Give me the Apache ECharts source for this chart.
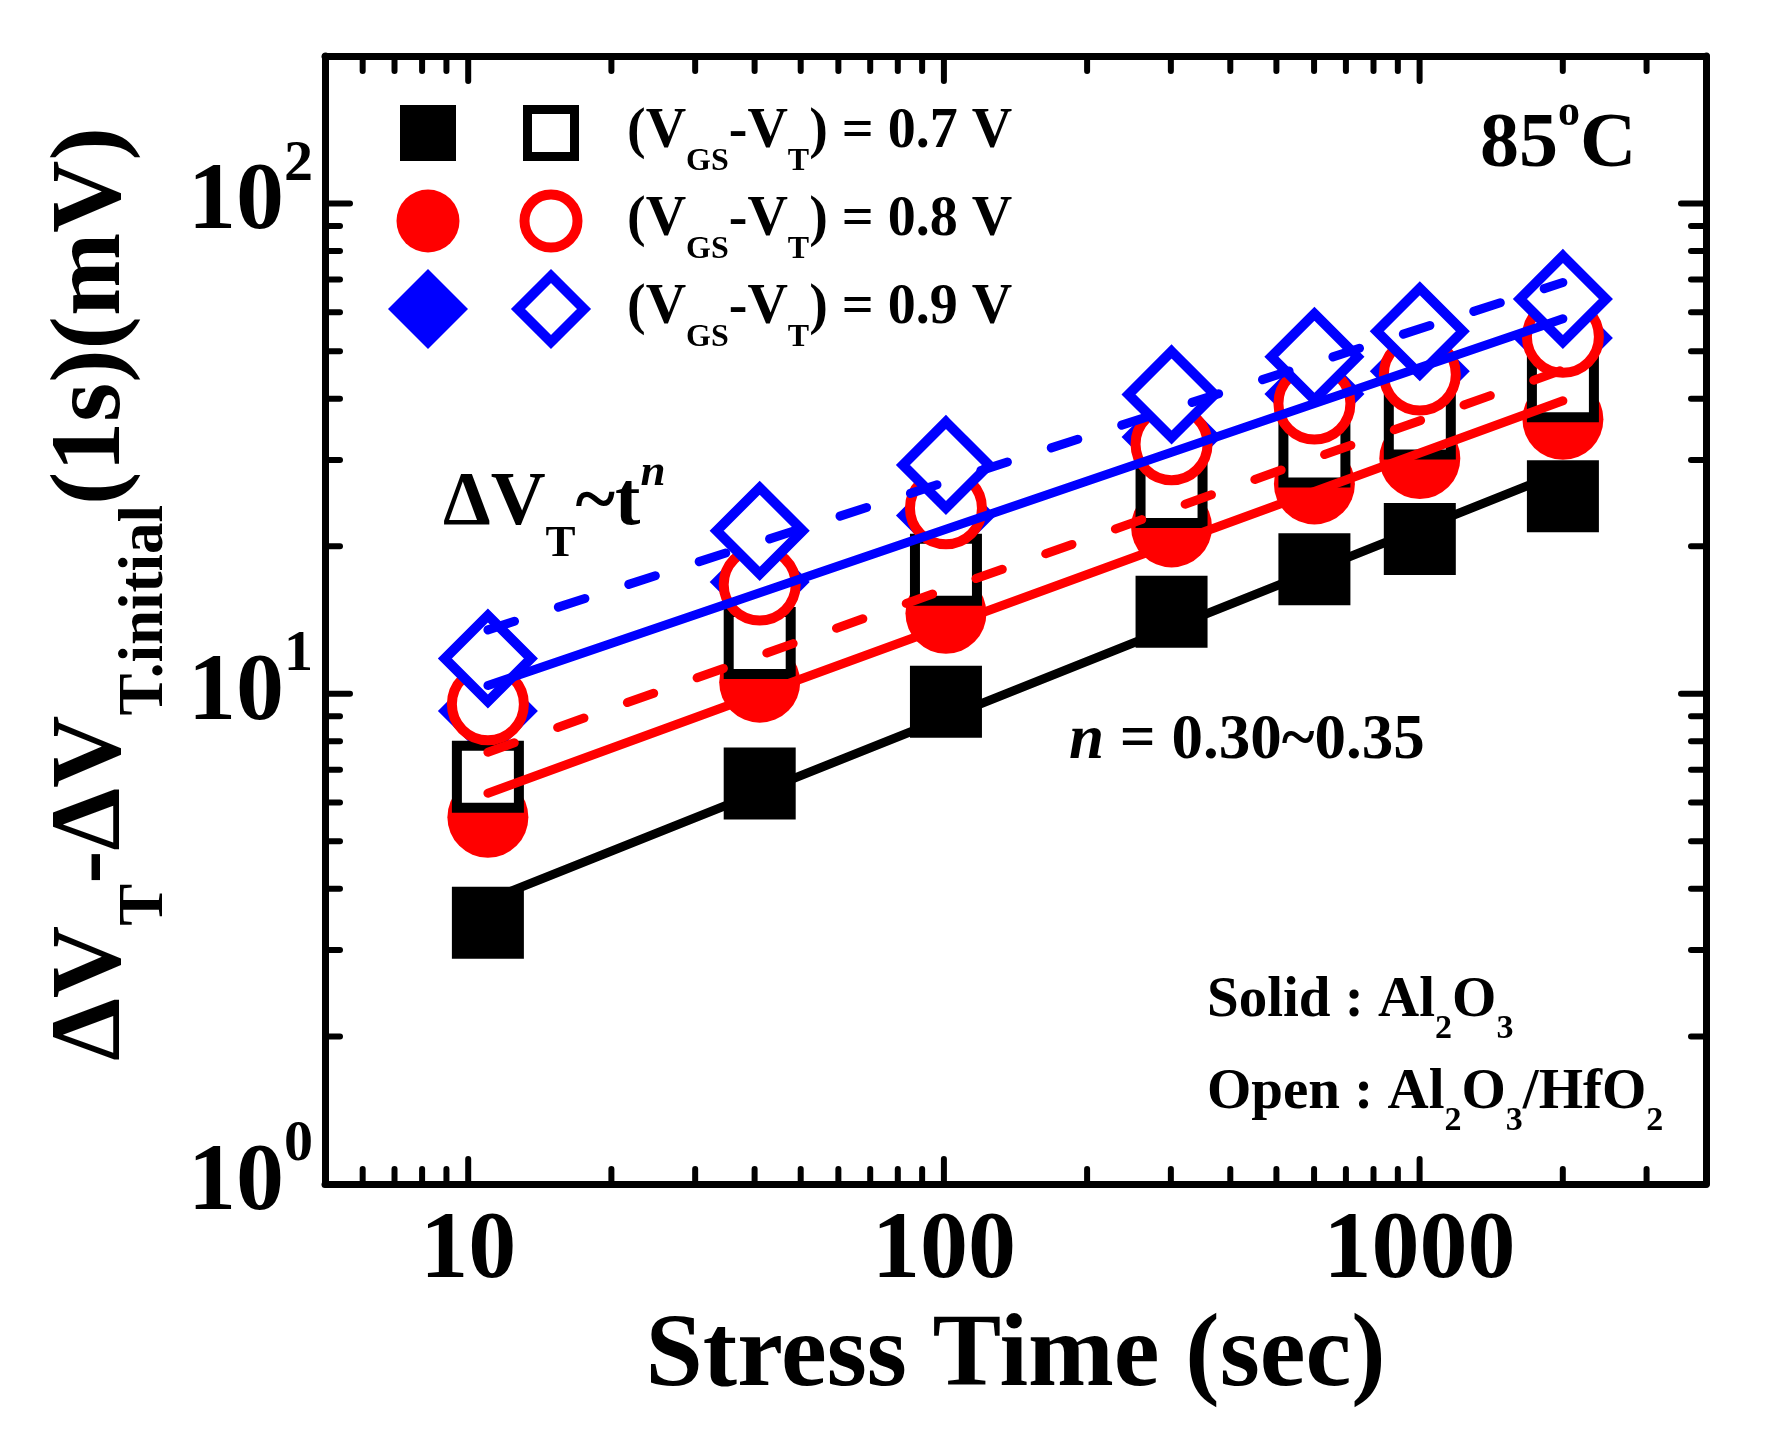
<!DOCTYPE html>
<html>
<head>
<meta charset="utf-8">
<title>Stress time vs threshold voltage shift</title>
<script src="https://cdn.jsdelivr.net/npm/echarts@6/dist/echarts.min.js"></script>
<style>
  html, body { margin: 0; padding: 0; background: #fff; }
  #chart { width: 1770px; height: 1433px; }
</style>
</head>
<body>
<div id="chart"></div>
<script>
// stress time (sec) at each measurement
const stressTime = [11, 41, 101, 301, 601, 1001, 2001];

// solid = Al2O3, open = Al2O3/HfO2 (mV)
const solid07 = [3.41, 6.56, 9.63, 14.7, 17.95, 20.7, 25.3];
const open07 = [6.77, 12.7, 17.9, 25.8, 31.2, 35.6, 42.4];
const solid08 = [5.6, 10.56, 14.6, 21.9, 26.8, 30.2, 36.3];
const open08 = [9.52, 16.7, 23.9, 32.3, 39.1, 44.8, 53.5];
const solid09 = [9.22, 16.9, 23.1, 33.4, 40.9, 45.5, 53.2];
const open09 = [11.8, 21.5, 29.3, 40.8, 48.7, 54.9, 63.9];

// power-law fit lines, value at first and last stress time
const fitTime = [11, 2001];
const fitBlack = [3.79, 28.4];
const fitRed = [6.27, 39.6];
const fitRedDash = [7.6, 45.8];
const fitBlue = [10.4, 58.2];
const fitBlueDash = [13.5, 69];

// axis range and tick positions
const xRange = [5, 4000];
const yRange = [1, 200];
const xMajorTicks = [10, 100, 1000];
const xMinorTicks = [6, 7, 8, 9, 20, 30, 40, 50, 60, 70, 80, 90,
  200, 300, 400, 500, 600, 700, 800, 900, 2000, 3000];
const yMajorTicks = [10, 100];
const yMinorTicks = [2, 3, 4, 5, 6, 7, 8, 9, 20, 30, 40, 50, 60, 70, 80, 90];

const FONT = 'Liberation Serif';
const MAJOR_LEN = 25;
const MINOR_LEN = 15;

const pts = (xs, ys) => xs.map((x, i) => [x, ys[i]]);
const isDecade = v => Math.abs(Math.log10(v) - Math.round(Math.log10(v))) < 1e-6;

function txt(size, extra) {
  return Object.assign({
    fontFamily: FONT, fontWeight: 'bold', fontSize: size,
    lineHeight: size, color: '#000', verticalAlign: 'middle'
  }, extra || {});
}

function solidSeries(data, symbol, size, color) {
  return {
    type: 'scatter', data: data, symbol: symbol, symbolSize: size,
    itemStyle: { color: color, opacity: 1 }, silent: true
  };
}

function openSeries(data, symbol, size, color) {
  return {
    type: 'scatter', data: data, symbol: symbol, symbolSize: size,
    itemStyle: { color: '#fff', borderColor: color, borderWidth: 10, borderJoin: 'miter', opacity: 1 },
    silent: true
  };
}

function fitSeries(data, color, dashed) {
  return {
    type: 'line', data: data, symbol: 'none', silent: true,
    lineStyle: { color: color, width: 9, cap: 'round', type: dashed ? [28, 46] : 'solid' }
  };
}

// ticks on all four sides of the frame, placed through the axis scales
function tickSeries(values, dir, len) {
  return {
    type: 'custom', silent: true, clip: false, z: 5,
    data: values.map(v => dir === 'x' ? [v, yRange[0]] : [xRange[0], v]),
    renderItem: function (params, api) {
      const style = { stroke: '#000', lineWidth: 6, lineCap: 'round' };
      if (dir === 'x') {
        const v = api.value(0);
        const b = api.coord([v, yRange[0]]);
        const t = api.coord([v, yRange[1]]);
        return { type: 'group', children: [
          { type: 'line', shape: { x1: b[0], y1: b[1], x2: b[0], y2: b[1] - len }, style: style },
          { type: 'line', shape: { x1: t[0], y1: t[1], x2: t[0], y2: t[1] + len }, style: style }
        ] };
      }
      const v = api.value(1);
      const l = api.coord([xRange[0], v]);
      const r = api.coord([xRange[1], v]);
      return { type: 'group', children: [
        { type: 'line', shape: { x1: l[0], y1: l[1], x2: l[0] + len, y2: l[1] }, style: style },
        { type: 'line', shape: { x1: r[0], y1: r[1], x2: r[0] - len, y2: r[1] }, style: style }
      ] };
    }
  };
}

const frameLine = { show: true, lineStyle: { color: '#000', width: 7, cap: 'round' } };

// legend rows: symbols drawn with graphic shapes
const legendRows = [
  { y: 133, color: '#000', label: '0.7 V', shape: 'rect' },
  { y: 221, color: '#ff0000', label: '0.8 V', shape: 'circle' },
  { y: 309, color: '#0000ff', label: '0.9 V', shape: 'diamond' }
];

function legendSymbol(shape, cx, cy, color, open) {
  if (shape === 'rect') {
    const h = open ? 23.5 : 28;
    return { type: 'rect', shape: { x: cx - h, y: cy - h, width: 2 * h, height: 2 * h },
      style: open ? { fill: '#fff', stroke: color, lineWidth: 9 } : { fill: color } };
  }
  if (shape === 'circle') {
    return { type: 'circle', shape: { cx: cx, cy: cy, r: open ? 26.5 : 31.5 },
      style: open ? { fill: '#fff', stroke: color, lineWidth: 10 } : { fill: color } };
  }
  const h = open ? 33 : 40;
  return { type: 'polygon', shape: { points: [[cx, cy - h], [cx + h, cy], [cx, cy + h], [cx - h, cy]] },
    style: open ? { fill: '#fff', stroke: color, lineWidth: 10, lineJoin: 'miter' } : { fill: color } };
}

const graphics = [];
legendRows.forEach(row => {
  graphics.push(legendSymbol(row.shape, 428, row.y, row.color, false));
  graphics.push(legendSymbol(row.shape, 551, row.y, row.color, true));
  graphics.push({
    type: 'text', x: 627, y: row.y,
    style: {
      text: '{m|(V}{s|GS}{m|-V}{s|T}{m|) = ' + row.label + '}',
      align: 'left', verticalAlign: 'middle',
      rich: { m: txt(56), s: txt(32, { padding: [58, 0, 0, 0] }) }
    }
  });
});

// annotations
graphics.push({
  type: 'text', x: 1480, y: 146,
  style: { text: '{m|85}{p|o}{m|C}', align: 'left', verticalAlign: 'middle',
    rich: { m: txt(78), p: txt(44, { padding: [0, 0, 64, 0] }) } }
});
graphics.push({
  type: 'text', x: 443, y: 504,
  style: { text: '{m|ΔV}{s|T}{m|~t}{n|n}', align: 'left', verticalAlign: 'middle',
    rich: { m: txt(76), s: txt(45, { padding: [81, 0, 0, 0] }),
      n: txt(45, { fontStyle: 'italic', padding: [0, 0, 62, 0] }) } }
});
graphics.push({
  type: 'text', x: 1069, y: 742,
  style: { text: '{i|n}{m| = 0.30~0.35}', align: 'left', verticalAlign: 'middle',
    rich: { m: txt(63), i: txt(63, { fontStyle: 'italic' }) } }
});
graphics.push({
  type: 'text', x: 1207, y: 1001,
  style: { text: '{m|Solid : Al}{s|2}{m|O}{s|3}', align: 'left', verticalAlign: 'middle',
    rich: { m: txt(57), s: txt(34, { padding: [56, 0, 0, 0] }) } }
});
graphics.push({
  type: 'text', x: 1207, y: 1093,
  style: { text: '{m|Open : Al}{s|2}{m|O}{s|3}{m|/HfO}{s|2}', align: 'left', verticalAlign: 'middle',
    rich: { m: txt(57), s: txt(34, { padding: [56, 0, 0, 0] }) } }
});

const chart = echarts.init(document.getElementById('chart'), null, { renderer: 'canvas' });

chart.setOption({
  animation: false,
  backgroundColor: '#fff',
  grid: { left: 325, right: 64, top: 56, bottom: 249, containLabel: false, outerBoundsMode: 'none' },
  xAxis: [{
    type: 'log', logBase: 10, min: xRange[0], max: xRange[1],
    axisLine: frameLine, axisTick: { show: false }, splitLine: { show: false },
    axisLabel: {
      margin: 20,
      formatter: v => isDecade(v) ? String(Math.round(v)) : '',
      fontFamily: FONT, fontWeight: 'bold', fontSize: 96, lineHeight: 96, color: '#000'
    },
    name: 'Stress Time (sec)', nameLocation: 'middle', nameGap: 123,
    nameTextStyle: { fontFamily: FONT, fontWeight: 'bold', fontSize: 103, lineHeight: 103, color: '#000' }
  }, {
    type: 'log', logBase: 10, min: xRange[0], max: xRange[1], position: 'top',
    axisLine: frameLine, axisTick: { show: false }, axisLabel: { show: false }, splitLine: { show: false }
  }],
  yAxis: [{
    type: 'log', logBase: 10, min: yRange[0], max: yRange[1],
    axisLine: frameLine, axisTick: { show: false }, splitLine: { show: false },
    axisLabel: {
      margin: 12,
      formatter: v => isDecade(v) ? '{m|10}{p|' + Math.round(Math.log10(v)) + '}' : '',
      rich: { m: txt(96), p: txt(58, { padding: [0, 0, 78, 0] }) }
    },
    name: '{m|ΔV}{s|T}{m|-ΔV}{s|T.initial}{m|(1s)(mV)}',
    nameLocation: 'middle', nameGap: 138, nameRotate: 90,
    nameTextStyle: {
      padding: [0, 0, 0, 52],
      rich: { m: txt(100), s: txt(63, { padding: [105, 0, 0, 0] }) }
    }
  }, {
    type: 'log', logBase: 10, min: yRange[0], max: yRange[1], position: 'right',
    axisLine: frameLine, axisTick: { show: false }, axisLabel: { show: false }, splitLine: { show: false }
  }],
  series: [
    solidSeries(pts(stressTime, solid07), 'rect', 72, '#000'),
    solidSeries(pts(stressTime, solid08), 'circle', 81, '#ff0000'),
    solidSeries(pts(stressTime, solid09), 'diamond', 100, '#0000ff'),
    openSeries(pts(stressTime, open07), 'rect', 62, '#000'),
    openSeries(pts(stressTime, open08), 'circle', 72, '#ff0000'),
    openSeries(pts(stressTime, open09), 'diamond', 86, '#0000ff'),
    fitSeries(pts(fitTime, fitBlack), '#000', false),
    fitSeries(pts(fitTime, fitRed), '#ff0000', false),
    fitSeries(pts(fitTime, fitRedDash), '#ff0000', true),
    fitSeries(pts(fitTime, fitBlue), '#0000ff', false),
    fitSeries(pts(fitTime, fitBlueDash), '#0000ff', true),
    tickSeries(xMajorTicks, 'x', MAJOR_LEN),
    tickSeries(xMinorTicks, 'x', MINOR_LEN),
    tickSeries(yMajorTicks, 'y', MAJOR_LEN),
    tickSeries(yMinorTicks, 'y', MINOR_LEN)
  ],
  graphic: graphics
});
</script>
</body>
</html>
